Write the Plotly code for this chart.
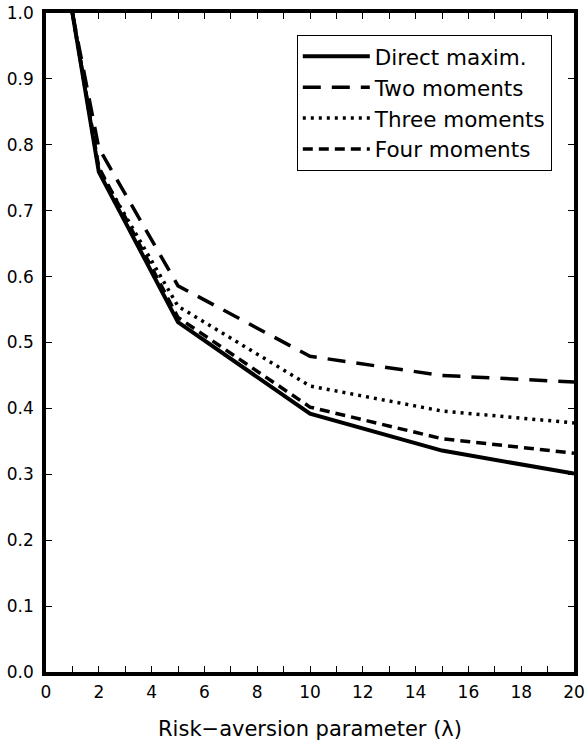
import plotly.graph_objects as go

lam = [1, 2, 5, 10, 15, 20]
direct_maxim = [1.0, 0.759, 0.531, 0.392, 0.336, 0.301]
two_moments = [1.0, 0.795, 0.586, 0.479, 0.450, 0.440]
three_moments = [1.0, 0.762, 0.555, 0.434, 0.396, 0.378]
four_moments = [1.0, 0.766, 0.538, 0.402, 0.354, 0.332]

series = [
    ("Direct maxim.", direct_maxim, "solid", 4),
    ("Two moments", two_moments, "18px,11px", 3.5),
    ("Three moments", three_moments, "3px,5px", 3.5),
    ("Four moments", four_moments, "10px,6px", 3.5),
]

fig = go.Figure()
for i, (name, vals, dash, w) in enumerate(series):
    fig.add_trace(go.Scatter(
        x=lam, y=vals, mode="lines", name=name, legendgroup=f"g{i}",
        line=dict(color="black", width=w, dash=dash),
    ))

font = "DejaVu Sans"
fig.update_layout(
    width=587, height=743,
    margin=dict(l=46, r=13, t=13, b=71, autoexpand=False),
    plot_bgcolor="white", paper_bgcolor="white",
    font=dict(family=font, color="black", size=15),
    showlegend=True,
    legend=dict(
        x=0.475, y=0.967, xanchor="left", yanchor="top",
        bgcolor="white", bordercolor="black", borderwidth=1,
        font=dict(family=font, size=21.5, color="black"),
        tracegroupgap=0, itemwidth=67,
    ),
    xaxis=dict(
        range=[0, 20], dtick=2, tick0=0, ticks="inside", ticklen=6, tickwidth=1,
        tickcolor="black", showline=True, linewidth=3.5, linecolor="black",
        mirror="ticks", showgrid=False, zeroline=False, automargin=False,
        minor=dict(dtick=1, ticks="inside", ticklen=6, tickwidth=1, tickcolor="black"),
        tickfont=dict(size=17), ticklabelstandoff=2,
        title=dict(text="Risk−aversion parameter (λ)", font=dict(size=21), standoff=21),
    ),
    yaxis=dict(
        range=[0, 1.0], dtick=0.1, tick0=0, tickformat=".1f", ticks="inside",
        ticklen=6, tickwidth=1, tickcolor="black", showline=True, linewidth=3.5,
        linecolor="black", mirror="ticks", showgrid=False, zeroline=False,
        automargin=False, tickfont=dict(size=17), ticklabelstandoff=5,
    ),
)

fig.write_html(
    "out.html",
    config={"displayModeBar": False},
    post_script="document.body.style.margin='0';",
)
